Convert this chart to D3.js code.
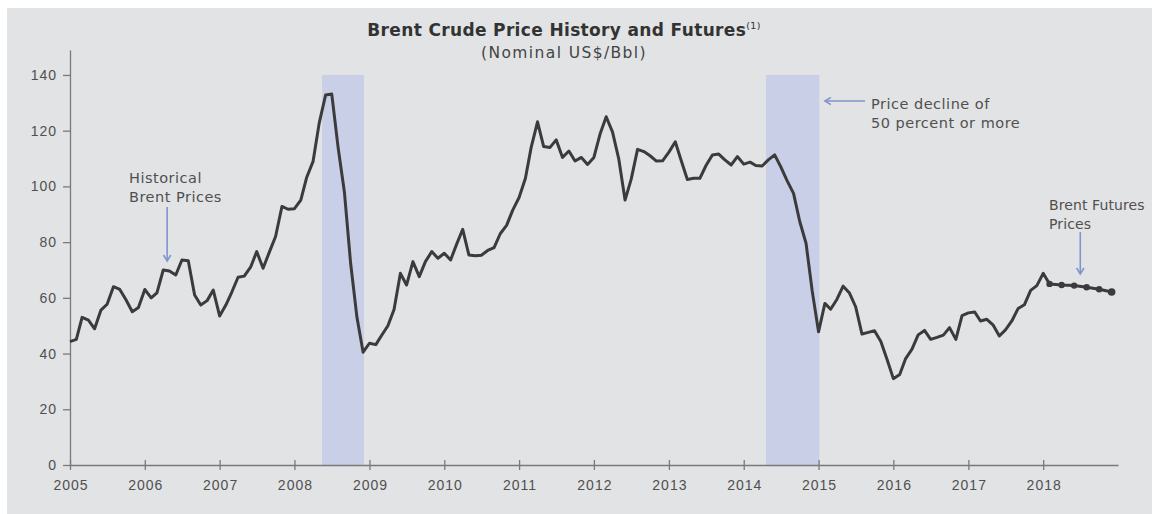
<!DOCTYPE html>
<html>
<head>
<meta charset="UTF-8">
<title>Brent Crude Price History and Futures</title>
<script src="https://cdn.jsdelivr.net/npm/d3@7/dist/d3.min.js"></script>
<style type="text/css">
body, html {
    margin: 0;
    padding: 0;
    background: #ffffff;
}

svg {
    display: block;
    font-family: "DejaVu Sans", sans-serif;
}

.axis path, .axis line {
    fill: none;
    stroke: #7a7a7a;
    stroke-width: 1.3px;
}

.axis text {
    fill: #4f4f4f;
    font-size: 14px;
    letter-spacing: 1px;
}

.note {
    fill: #505050;
    font-size: 14.5px;
    letter-spacing: 0.5px;
}
</style>
</head>
<body>

<div class="chart"></div>

<script type="text/javascript">
// monthly Brent price, Jan 2005 .. Jan 2018 (US$/bbl)
var historical = [
    44.3, 45.1, 53.0, 52.0, 48.9, 55.6, 57.7, 64.0, 63.0, 59.3, 55.0, 56.5,   // 2005
    63.0, 60.0, 61.8, 70.0, 69.6, 68.2, 73.6, 73.3, 61.0, 57.4, 59.0, 62.8,   // 2006
    53.5, 57.5, 62.0, 67.4, 67.8, 71.0, 76.6, 70.6, 76.5, 82.0, 92.8, 91.8,   // 2007
    92.0, 95.1, 103.3, 109.0, 122.8, 132.8, 133.2, 114.0, 97.8, 72.5, 53.0, 40.5, // 2008
    43.7, 43.2, 46.5, 50.0, 55.8, 68.8, 64.6, 73.0, 67.6, 73.0, 76.6, 74.2,   // 2009
    76.0, 73.6, 79.0, 84.6, 75.4, 75.1, 75.3, 77.0, 78.0, 83.0, 86.0, 91.5,   // 2010
    96.0, 102.9, 114.0, 123.2, 114.3, 114.0, 116.7, 110.4, 112.7, 109.1, 110.4, 107.9, // 2011
    110.4, 119.0, 125.0, 119.5, 110.0, 95.1, 102.6, 113.3, 112.5, 111.0, 109.1, 109.2, // 2012
    112.3, 116.0, 109.5, 102.5, 102.9, 102.9, 107.5, 111.3, 111.6, 109.5, 107.7, 110.7, // 2013
    108.0, 108.7, 107.5, 107.3, 109.5, 111.3, 107.0, 102.0, 97.5, 87.5, 79.6, 62.5, // 2014
    47.8, 58.0, 55.9, 59.5, 64.2, 61.7, 56.8, 47.0, 47.6, 48.2, 44.3, 38.0,   // 2015
    31.0, 32.5, 38.2, 41.6, 46.7, 48.3, 45.1, 45.8, 46.6, 49.3, 45.1, 53.6,   // 2016
    54.6, 54.9, 51.7, 52.3, 50.3, 46.3, 48.5, 51.7, 56.2, 57.5, 62.7, 64.4,   // 2017
    68.8                                                                      // 2018
];

// Brent futures strip (month index within 2018)
var futuresMonths = [1, 3, 5, 7, 9, 11];
var futuresPrices = [65.0, 64.6, 64.4, 63.8, 63.1, 62.1];

// periods of 50% or more price decline
var declineStart = [new Date(2008, 4, 15), new Date(2014, 3, 20)];
var declineEnd   = [new Date(2008, 11, 5), new Date(2015, 0, 5)];

var yTicks = [0, 20, 40, 60, 80, 100, 120, 140];
var xTickYears = [2005, 2006, 2007, 2008, 2009, 2010, 2011, 2012, 2013, 2014, 2015, 2016, 2017, 2018];

var W = 1152, H = 514;

var histData = historical.map(function (v, i) {
    return {date: new Date(2005, i, 1), price: v};
});
var futData = futuresMonths.map(function (m, i) {
    return {date: new Date(2018, m, 1), price: futuresPrices[i]};
});
var lineData = histData.concat(futData);

var x = d3.scaleTime()
    .domain([new Date(2005, 0, 1), new Date(2019, 0, 1)])
    .range([70, 1118]);

var y = d3.scaleLinear()
    .domain([0, 149])
    .range([465, 465 - 149 * 2.786]);

var svg = d3.select(".chart")
    .append("svg")
    .attr("width", W)
    .attr("height", H);

// panel
svg.append("rect")
    .attr("x", 7)
    .attr("y", 8)
    .attr("width", W - 7)
    .attr("height", H - 8)
    .attr("fill", "#e2e3e5");

// shaded decline periods
svg.selectAll("rect.decline")
    .data(declineStart)
    .enter()
    .append("rect")
    .attr("class", "decline")
    .attr("x", function (d) { return x(d); })
    .attr("width", function (d, i) { return x(declineEnd[i]) - x(d); })
    .attr("y", y(140))
    .attr("height", y(0) - y(140))
    .attr("fill", "#c9cfe7");

// title
var title = svg.append("text")
    .attr("x", 564)
    .attr("y", 36)
    .attr("text-anchor", "middle")
    .attr("fill", "#333")
    .style("font-size", "17px")
    .style("letter-spacing", "0.35px")
    .style("font-weight", "bold");
title.append("tspan").text("Brent Crude Price History and Futures");
title.append("tspan")
    .attr("dy", "-7")
    .style("font-size", "9.5px")
    .style("font-weight", "normal")
    .text("(1)");

svg.append("text")
    .attr("x", 564)
    .attr("y", 58)
    .attr("text-anchor", "middle")
    .attr("fill", "#444")
    .style("font-size", "15.5px")
    .style("letter-spacing", "1.4px")
    .text("(Nominal US$/Bbl)");

// axes
var xAxis = d3.axisBottom(x)
    .tickValues(xTickYears.map(function (yr) { return new Date(yr, 0, 1); }))
    .tickFormat(d3.timeFormat("%Y"))
    .tickSizeInner(5)
    .tickSizeOuter(0);

var gx = svg.append("g")
    .attr("class", "x axis")
    .attr("transform", "translate(0," + y(0) + ")")
    .call(xAxis);
gx.selectAll(".tick line").attr("y1", -5).attr("y2", 5);
gx.selectAll(".tick text").attr("y", 15).attr("dx", "0.5px");

var yAxis = d3.axisLeft(y)
    .tickValues(yTicks)
    .tickSizeInner(7)
    .tickSizeOuter(0)
    .tickPadding(6);

svg.append("g")
    .attr("class", "y axis")
    .attr("transform", "translate(70,0)")
    .call(yAxis);

// price line
var line = d3.line()
    .x(function (d) { return x(d.date); })
    .y(function (d) { return y(d.price); });

svg.append("path")
    .datum(lineData)
    .attr("fill", "none")
    .attr("stroke", "#3b3b3b")
    .attr("stroke-width", 3)
    .attr("stroke-linejoin", "round")
    .attr("d", line);

svg.selectAll("circle.fut")
    .data(futData)
    .enter()
    .append("circle")
    .attr("class", "fut")
    .attr("cx", function (d) { return x(d.date); })
    .attr("cy", function (d) { return y(d.price); })
    .attr("r", function (d, i) { return i == futData.length - 1 ? 3.8 : 3.2; })
    .attr("fill", "#3b3b3b");

// annotations
var arrowColor = "#7f95cc";

function arrow(x1, y1, x2, y2) {
    var a = Math.atan2(y2 - y1, x2 - x1), h = 7, s = 0.55;
    svg.append("line")
        .attr("x1", x1).attr("y1", y1)
        .attr("x2", x2).attr("y2", y2)
        .attr("stroke", arrowColor)
        .attr("stroke-width", 1.6);
    svg.append("path")
        .attr("d", "M" + (x2 - h * Math.cos(a - s)) + "," + (y2 - h * Math.sin(a - s)) +
            "L" + x2 + "," + y2 +
            "L" + (x2 - h * Math.cos(a + s)) + "," + (y2 - h * Math.sin(a + s)))
        .attr("fill", "none")
        .attr("stroke", arrowColor)
        .attr("stroke-width", 1.6);
}

function note(xp, yp, lines) {
    var t = svg.append("text")
        .attr("class", "note")
        .attr("x", xp)
        .attr("y", yp);
    lines.forEach(function (s, i) {
        t.append("tspan")
            .attr("x", xp)
            .attr("dy", i == 0 ? 0 : 18.5)
            .text(s);
    });
    return t;
}

note(129, 183, ["Historical", "Brent Prices"]);
arrow(x(new Date(2006, 3, 20)), 207, x(new Date(2006, 3, 20)), 261);

note(871, 109, ["Price decline of", "50 percent or more"]);
arrow(865, 101, x(new Date(2015, 1, 1)), 101);

// last note sits against the right edge, keep it a bit tighter
note(1049, 210, ["Brent Futures", "Prices"])
    .style("letter-spacing", "0.1px")
    .style("font-size", "14px");
arrow(x(new Date(2018, 6, 1)), 232, x(new Date(2018, 6, 1)), 274);
</script>
</body>
</html>
